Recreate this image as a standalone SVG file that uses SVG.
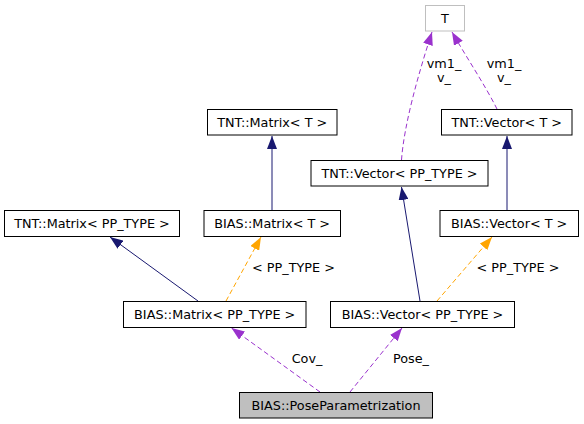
<svg xmlns="http://www.w3.org/2000/svg" width="584" height="424" viewBox="0 0 584 424">
<style>
  .box { fill: #ffffff; stroke: #000000; stroke-width: 1; }
  .gray { fill: #ffffff; stroke: #bfbfbf; stroke-width: 1; }
  .self { fill: #bfbfbf; stroke: #000000; stroke-width: 1; }
  text { font-family: "DejaVu Sans", sans-serif; font-size: 12.8px; fill: #000000; }
  .c { text-anchor: middle; }
  .inh { fill: none; stroke: #191970; stroke-width: 1; }
  .use { fill: none; stroke: #9a32cd; stroke-width: 1; stroke-dasharray: 5,3; }
  .tpl { fill: none; stroke: #ffa500; stroke-width: 1; stroke-dasharray: 5,3; }
</style>
<defs>
  <marker id="aN" markerUnits="userSpaceOnUse" markerWidth="13" markerHeight="10" refX="13" refY="5" orient="auto" viewBox="0 0 13 10">
    <path d="M0,0 L13,5 L0,10 Z" fill="#191970"/>
  </marker>
  <marker id="aP" markerUnits="userSpaceOnUse" markerWidth="13" markerHeight="10" refX="13" refY="5" orient="auto" viewBox="0 0 13 10">
    <path d="M0,0 L13,5 L0,10 Z" fill="#9a32cd"/>
  </marker>
  <marker id="aO" markerUnits="userSpaceOnUse" markerWidth="13" markerHeight="10" refX="13" refY="5" orient="auto" viewBox="0 0 13 10">
    <path d="M0,0 L13,5 L0,10 Z" fill="#ffa500"/>
  </marker>
</defs>
<g id="connectors">
  <path class="use" d="M401.5,160 C404,125 418,75 432,32" marker-end="url(#aP)"/>
  <path class="use" d="M497,109 C485,85 465,55 452,32" marker-end="url(#aP)"/>
  <path class="inh" d="M272,210 L272,136" marker-end="url(#aN)"/>
  <path class="inh" d="M507,210 L507,136" marker-end="url(#aN)"/>
  <path class="inh" d="M420,301 L401.5,187" marker-end="url(#aN)"/>
  <path class="inh" d="M198,301 L110,237" marker-end="url(#aN)"/>
  <path class="tpl" d="M226,301 L261,237" marker-end="url(#aO)"/>
  <path class="tpl" d="M437,301 L492,237" marker-end="url(#aO)"/>
  <path class="use" d="M320,392 L231.5,328" marker-end="url(#aP)"/>
  <path class="use" d="M350,392 L402,328" marker-end="url(#aP)"/>
  <text class="c" x="444" y="68">vm1_</text>
  <text class="c" x="444" y="82">v_</text>
  <text class="c" x="504" y="68">vm1_</text>
  <text class="c" x="504" y="82">v_</text>
  <text class="c" x="293.5" y="272">&lt; PP_TYPE &gt;</text>
  <text class="c" x="518" y="272">&lt; PP_TYPE &gt;</text>
  <text class="c" x="307" y="363">Cov_</text>
  <text class="c" x="411" y="363">Pose_</text>
</g>
<g id="node-T">
  <rect class="gray" x="425.5" y="5.5" width="39" height="25.5"/>
  <text class="c" x="445" y="22.7">T</text>
</g>
<g id="node-tnt-matrix-t">
  <rect class="box" x="207.5" y="109.5" width="129.5" height="25.5"/>
  <text class="c" x="272.2" y="126.7">TNT::Matrix&lt; T &gt;</text>
</g>
<g id="node-tnt-vector-t">
  <rect class="box" x="441.5" y="109.5" width="130.5" height="25.5"/>
  <text class="c" x="506.7" y="126.7">TNT::Vector&lt; T &gt;</text>
</g>
<g id="node-tnt-vector-pp">
  <rect class="box" x="311" y="160.5" width="177" height="25.5"/>
  <text class="c" x="399.5" y="177.7">TNT::Vector&lt; PP_TYPE &gt;</text>
</g>
<g id="node-tnt-matrix-pp">
  <rect class="box" x="4.5" y="210.5" width="175" height="26"/>
  <text class="c" x="92" y="228">TNT::Matrix&lt; PP_TYPE &gt;</text>
</g>
<g id="node-bias-matrix-t">
  <rect class="box" x="204" y="210.5" width="136.5" height="26"/>
  <text class="c" x="272.2" y="228">BIAS::Matrix&lt; T &gt;</text>
</g>
<g id="node-bias-vector-t">
  <rect class="box" x="440" y="210.5" width="138.5" height="26"/>
  <text class="c" x="509.2" y="228">BIAS::Vector&lt; T &gt;</text>
</g>
<g id="node-bias-matrix-pp">
  <rect class="box" x="123.5" y="301.5" width="182.5" height="26"/>
  <text class="c" x="214.7" y="319">BIAS::Matrix&lt; PP_TYPE &gt;</text>
</g>
<g id="node-bias-vector-pp">
  <rect class="box" x="330.5" y="301.5" width="184" height="26"/>
  <text class="c" x="422.5" y="319">BIAS::Vector&lt; PP_TYPE &gt;</text>
</g>
<g id="node-pose">
  <rect class="self" x="239.5" y="392.5" width="193" height="25.5"/>
  <text class="c" x="336" y="409.7">BIAS::PoseParametrization</text>
</g>
</svg>
